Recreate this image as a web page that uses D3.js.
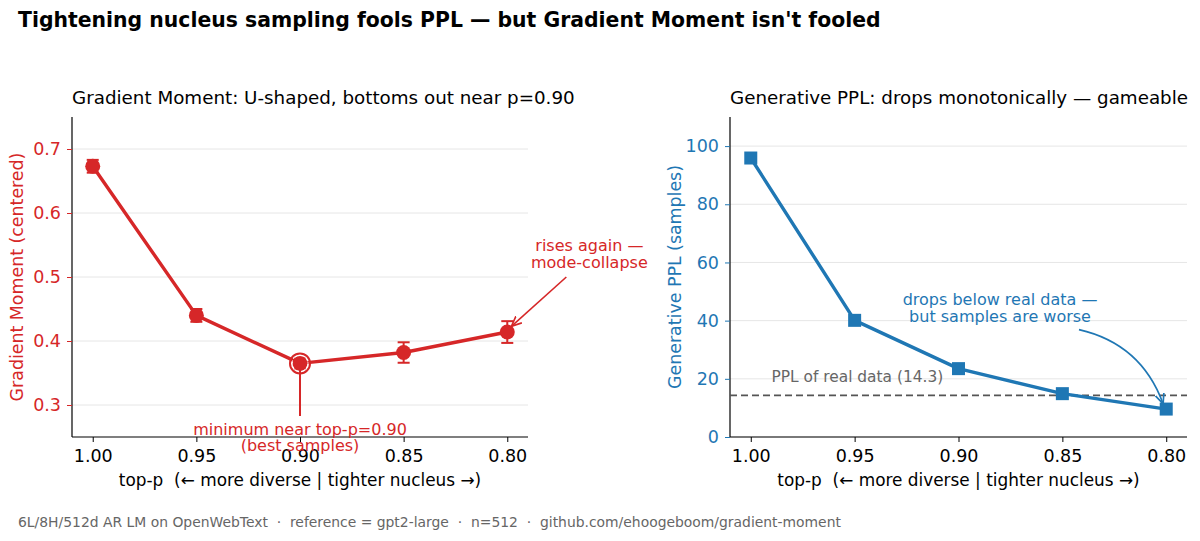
<!DOCTYPE html>
<html><head><meta charset="utf-8">
<script src="https://cdn.jsdelivr.net/npm/d3@7"></script>
<style>
body{margin:0;background:#fff;}
svg text{font-family:"DejaVu Sans",sans-serif;white-space:pre;}
</style></head>
<body><svg id="c" width="1200" height="541"></svg>
<script>
const topP = [1.00, 0.95, 0.90, 0.85, 0.80];
const gm = [0.673, 0.440, 0.365, 0.382, 0.414];
const gmErr = [0.010, 0.010, 0.008, 0.016, 0.017];
const ppl = [95.9, 40.1, 23.5, 14.9, 9.6];
const realPPL = 14.3;
const xTicks = [1.00, 0.95, 0.90, 0.85, 0.80];
const gmTicks = [0.3, 0.4, 0.5, 0.6, 0.7];
const pplTicks = [0, 20, 40, 60, 80, 100];

const RED = "#d62728", BLUE = "#1f77b4";
const svg = d3.select("#c");

svg.append("text").attr("x",18).attr("y",20).attr("dominant-baseline","central")
  .attr("font-size",20.4).attr("font-weight","bold").attr("fill","#000")
  .text("Tightening nucleus sampling fools PPL — but Gradient Moment isn't fooled");
svg.append("text").attr("x",18).attr("y",522).attr("dominant-baseline","central")
  .attr("font-size",13.9).attr("fill","#666")
  .text("6L/8H/512d AR LM on OpenWebText  ·  reference = gpt2-large  ·  n=512  ·  github.com/ehoogeboom/gradient-moment");

const defs = svg.append("defs");
function marker(id, color){
  defs.append("marker").attr("id",id).attr("viewBox","0 0 10 10").attr("refX",9).attr("refY",5)
   .attr("markerWidth",7).attr("markerHeight",7).attr("orient","auto-start-reverse")
   .append("path").attr("d","M0,1 L9,5 L0,9").attr("fill","none").attr("stroke",color).attr("stroke-width",1.5);
}
marker("arR", RED); marker("arB", BLUE);

function panel(x0, x1, ydom, ticks, color, fmt, title, ylabel){
  const top=117, bot=437;
  const x = d3.scaleLinear().domain([1.01, 0.79]).range([x0, x1]);
  const y = d3.scaleLinear().domain(ydom).range([bot, top]);
  const g = svg.append("g");
  g.append("text").attr("x",x0).attr("y",97).attr("dominant-baseline","central")
    .attr("font-size",18.3).attr("fill","#000").text(title);
  g.append("g").selectAll("line").data(ticks).join("line")
    .attr("x1",x0).attr("x2",x1).attr("y1",d=>y(d)).attr("y2",d=>y(d))
    .attr("stroke","#e6e6e6").attr("stroke-width",1);
  const xa = g.append("g").attr("transform",`translate(0,${bot})`)
    .call(d3.axisBottom(x).tickValues(xTicks).tickFormat(d3.format(".2f")).tickSize(5).tickPadding(8));
  xa.selectAll("text").attr("font-size",17.5).attr("fill","#000").attr("font-family","DejaVu Sans");
  xa.select(".domain").attr("stroke","#000").attr("stroke-width",1.2).attr("d",`M${x0},0H${x1}`);
  const ya = g.append("g").attr("transform",`translate(${x0},0)`)
    .call(d3.axisLeft(y).tickValues(ticks).tickFormat(fmt).tickSize(5).tickPadding(6));
  ya.selectAll("text").attr("font-size",17.5).attr("fill",color).attr("font-family","DejaVu Sans");
  ya.selectAll(".tick line").attr("stroke",color);
  ya.select(".domain").attr("stroke","#000").attr("stroke-width",1.2).attr("d",`M0,${top}V${bot}`);
  g.append("text").attr("x",(x0+x1)/2).attr("y",480).attr("text-anchor","middle").attr("dominant-baseline","central")
    .attr("font-size",16.9).attr("fill","#000").text("top-p  (← more diverse | tighter nucleus →)");
  g.append("text").attr("transform",`translate(${x0-55},${(top+bot)/2}) rotate(-90)`)
    .attr("text-anchor","middle").attr("dominant-baseline","central")
    .attr("font-size",17.4).attr("fill",color).text(ylabel);
  return {x,y,g};
}

// Left panel
const L = panel(72, 528, [0.25, 0.75], gmTicks, RED, d3.format(".1f"),
  "Gradient Moment: U-shaped, bottoms out near p=0.90", "Gradient Moment (centered)");
const lineL = d3.line().x((d,i)=>L.x(topP[i])).y(d=>L.y(d));
L.g.append("path").attr("d",lineL(gm)).attr("fill","none").attr("stroke",RED).attr("stroke-width",3.4).attr("stroke-linejoin","round");
const eb = L.g.append("g").attr("stroke",RED).attr("stroke-width",2);
topP.forEach((p,i)=>{
  const xx=L.x(p), y1=L.y(gm[i]-gmErr[i]), y2=L.y(gm[i]+gmErr[i]);
  eb.append("line").attr("x1",xx).attr("x2",xx).attr("y1",y1).attr("y2",y2);
  eb.append("line").attr("x1",xx-6).attr("x2",xx+6).attr("y1",y1).attr("y2",y1);
  eb.append("line").attr("x1",xx-6).attr("x2",xx+6).attr("y1",y2).attr("y2",y2);
});
L.g.append("g").selectAll("circle").data(gm).join("circle")
  .attr("cx",(d,i)=>L.x(topP[i])).attr("cy",d=>L.y(d)).attr("r",7.5).attr("fill",RED);
// highlight min
const iMin = gm.indexOf(d3.min(gm));
L.g.append("circle").attr("cx",L.x(topP[iMin])).attr("cy",L.y(gm[iMin])).attr("r",8)
  .attr("fill","none").attr("stroke","#fff").attr("stroke-width",1).attr("stroke-dasharray","4,2");
L.g.append("circle").attr("cx",L.x(topP[iMin])).attr("cy",L.y(gm[iMin])).attr("r",10)
  .attr("fill","none").attr("stroke",RED).attr("stroke-width",2);
// min annotation
L.g.append("line").attr("x1",L.x(0.90)).attr("x2",L.x(0.90)).attr("y1",L.y(0.283)).attr("y2",L.y(gm[iMin])-3)
  .attr("stroke",RED).attr("stroke-width",2);
[["minimum near top-p=0.90",0.2625],["(best samples)",0.2375]].forEach(([t,v])=>{
  L.g.append("text").attr("x",L.x(0.90)).attr("y",L.y(v)).attr("text-anchor","middle").attr("dominant-baseline","central")
   .attr("font-size",16).attr("fill",RED).text(t);
});
[["rises again —",0.550],["mode-collapse",0.522]].forEach(([t,v])=>{
  L.g.append("text").attr("x",L.x(0.7604)).attr("y",L.y(v)).attr("text-anchor","middle").attr("dominant-baseline","central")
   .attr("font-size",16).attr("fill",RED).text(t);
});
L.g.append("line").attr("x1",L.x(0.7715)).attr("y1",L.y(0.500)).attr("x2",L.x(0.798)).attr("y2",L.y(0.423))
  .attr("stroke",RED).attr("stroke-width",1.6).attr("marker-end","url(#arR)");

// Right panel
const R = panel(730, 1187, [0, 110], pplTicks, BLUE, d3.format("d"),
  "Generative PPL: drops monotonically — gameable", "Generative PPL (samples)");
R.g.append("line").attr("x1",730).attr("x2",1187).attr("y1",R.y(realPPL)).attr("y2",R.y(realPPL))
  .attr("stroke","#555").attr("stroke-width",1.8).attr("stroke-dasharray","7,4");
R.g.append("text").attr("x",R.x(0.99)).attr("y",R.y(20.7)).attr("dominant-baseline","central")
  .attr("font-size",15.4).attr("fill","#666").text(`PPL of real data (${realPPL})`);
const lineR = d3.line().x((d,i)=>R.x(topP[i])).y(d=>R.y(d));
R.g.append("path").attr("d",lineR(ppl)).attr("fill","none").attr("stroke",BLUE).attr("stroke-width",3.4).attr("stroke-linejoin","round");
R.g.append("g").selectAll("rect").data(ppl).join("rect")
  .attr("x",(d,i)=>R.x(topP[i])-6.5).attr("y",d=>R.y(d)-6.5).attr("width",13).attr("height",13).attr("fill",BLUE);
[["drops below real data —",47.2],["but samples are worse",41.4]].forEach(([t,v])=>{
  R.g.append("text").attr("x",R.x(0.880)).attr("y",R.y(v)).attr("text-anchor","middle").attr("dominant-baseline","central")
   .attr("font-size",16).attr("fill",BLUE).text(t);
});
{
  const sx=R.x(0.842), sy=R.y(36.9), ex=R.x(0.8015), ey=R.y(11.4);
  const cx=R.x(0.812), cy=R.y(32);
  R.g.append("path").attr("d",`M${sx},${sy} Q${cx},${cy} ${ex},${ey}`).attr("fill","none")
   .attr("stroke",BLUE).attr("stroke-width",1.6).attr("marker-end","url(#arB)");
}
</script></body></html>
